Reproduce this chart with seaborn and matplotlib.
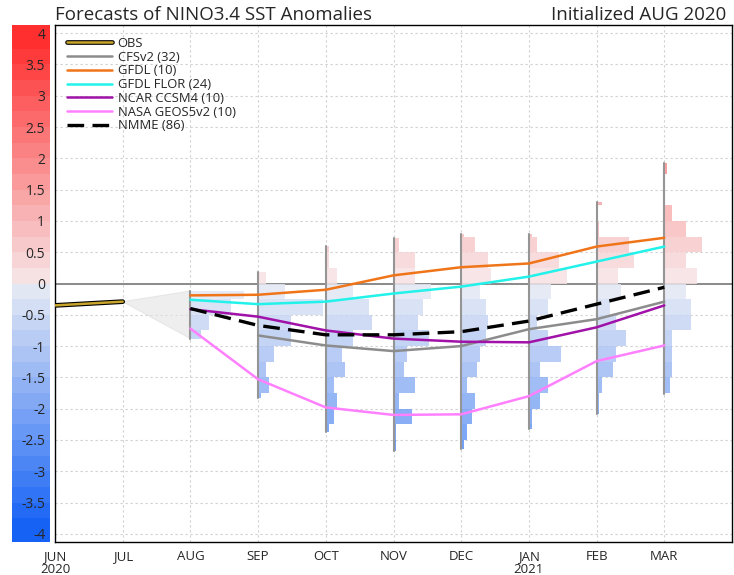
import numpy as np
import pandas as pd
import matplotlib
matplotlib.use("Agg")
import matplotlib.pyplot as plt
import matplotlib.patheffects as pe
from matplotlib.colors import LinearSegmentedColormap
import seaborn as sns

# Months on the x axis (JUN 2020 .. MAR 2021)
MONTHS = ["JUN", "JUL", "AUG", "SEP", "OCT", "NOV", "DEC", "JAN", "FEB", "MAR"]
YEAR_LABELS = {"JUN": "2020", "JAN": "2021"}
FCST_MONTHS = ["AUG", "SEP", "OCT", "NOV", "DEC", "JAN", "FEB", "MAR"]

# Observations
OBS_MONTHS = ["JUN", "JUL"]
OBS = [-0.35, -0.29]

# Model ensemble means (nan = no value)
CFSV2 = [np.nan, -0.83, -0.99, -1.08, -1.00, -0.73, -0.57, -0.29]
GFDL = [-0.19, -0.18, -0.10, 0.13, 0.26, 0.32, 0.59, 0.73]
GFDL_FLOR = [-0.26, -0.33, -0.29, -0.16, -0.05, 0.11, 0.35, 0.59]
NCAR_CCSM4 = [-0.41, -0.53, -0.75, -0.88, -0.93, -0.94, -0.70, -0.35]
NASA_GEOS5 = [-0.72, -1.53, -1.98, -2.10, -2.09, -1.80, -1.24, -0.99]
NMME = [-0.40, -0.67, -0.82, -0.82, -0.77, -0.60, -0.33, -0.06]

# Ensemble member histograms, bins of 0.25 given by their top edge
BIN_TOPS = [2.0, 1.75, 1.5, 1.25, 1.0, 0.75, 0.5, 0.25, 0.0, -0.25,
            -0.5, -0.75, -1.0, -1.25, -1.5, -1.75, -2.0, -2.25, -2.5]
HIST_AUG = [0, 0, 0, 0, 0, 0, 0, 0, 20, 15, 7, 4, 0, 0, 0, 0, 0, 0, 0]
HIST_SEP = [0, 0, 0, 0, 0, 0, 0, 3, 10, 24, 12, 12, 6, 3, 4, 1, 0, 0, 0]
HIST_OCT = [0, 0, 0, 0, 0, 1, 1, 4, 10, 16, 17, 10, 6, 7, 3, 4, 3, 1, 0]
HIST_NOV = [0, 0, 0, 0, 0, 2, 8, 8, 14, 11, 9, 13, 5, 4, 8, 2, 7, 1, 1]
HIST_DEC = [0, 0, 0, 0, 1, 5, 10, 11, 7, 9, 10, 9, 7, 6, 2, 5, 4, 2, 1]
HIST_JAN = [0, 0, 0, 0, 1, 3, 11, 14, 8, 7, 3, 7, 12, 4, 7, 4, 1, 1, 0]
HIST_FEB = [0, 0, 2, 0, 1, 12, 14, 8, 9, 5, 7, 11, 7, 6, 2, 1, 1, 0, 0]
HIST_MAR = [1, 0, 0, 3, 8, 14, 8, 12, 8, 10, 10, 3, 3, 3, 2, 0, 0, 0, 0]
ENS_MIN = [-0.88, -1.83, -2.37, -2.67, -2.65, -2.33, -2.08, -1.77]
ENS_MAX = [-0.12, 0.18, 0.60, 0.72, 0.79, 0.79, 1.30, 1.92]

# Colour bar levels
CB_LEVELS = np.arange(-4.0, 4.0, 0.25)

sns.set_style("white")
plt.rcParams["font.family"] = ["Open Sans", "DejaVu Sans"]

cmap = LinearSegmentedColormap.from_list(
    "anom", [(0.0, "#0f5ef5"), (0.5, "#e8ebf4"), (0.5001, "#f6e8ea"), (1.0, "#ff2a2a")])


def level_color(v):
    return cmap((v + 4.0) / 8.0)


YLIM = (-4.13, 4.13)
fig = plt.figure(figsize=(7.34, 5.75), dpi=100)
ax_cb = fig.add_axes([12 / 734, 33 / 575, 38 / 734, 517 / 575])
ax = fig.add_axes([55 / 734, 33 / 575, 677 / 734, 517 / 575])

# colour bar on the left
for lv in CB_LEVELS:
    lo = lv if lv > -4.0 else YLIM[0]
    hi = lv + 0.25 if lv < 3.75 else YLIM[1]
    ax_cb.barh(lo, 1, height=hi - lo, align="edge", color=level_color(lv + 0.125), linewidth=0)
ax_cb.set_xlim(0, 1)
ax_cb.set_ylim(*YLIM)
ax_cb.axis("off")

x_of = {m: i for i, m in enumerate(MONTHS)}
fx = np.array([x_of[m] for m in FCST_MONTHS])

# grid and zero line
for v in np.arange(-4, 4.01, 0.5):
    ax.axhline(v, color="#d0d0d0", lw=0.8, ls=(0, (2, 2.5)), zorder=0)
for i in range(len(MONTHS)):
    ax.axvline(i, color="#d0d0d0", lw=0.8, ls=(0, (2, 2.5)), zorder=0)
ax.axhline(0, color="#8a8a8a", lw=1.4, zorder=1)

# histograms of ensemble members
px_per_member = 2.7 / 67.7
hists = [HIST_AUG, HIST_SEP, HIST_OCT, HIST_NOV, HIST_DEC, HIST_JAN, HIST_FEB, HIST_MAR]
for x0, counts, lo_lim, hi_lim in zip(fx, hists, ENS_MIN, ENS_MAX):
    for top, c in zip(BIN_TOPS, counts):
        if c == 0:
            continue
        lo = max(top - 0.25, lo_lim)
        hi = min(top, hi_lim)
        ax.barh(lo, c * px_per_member, height=hi - lo, left=x0, align="edge",
                color=level_color(top - 0.125), alpha=0.85, linewidth=0, zorder=2)
    ax.plot([x0, x0], [lo_lim, hi_lim], color="#959595", lw=1.5, zorder=3)

# spread cone from last observation
ax.fill([1, 2, 2], [OBS[-1], ENS_MAX[0], ENS_MIN[0]], color="#e4e4e4", alpha=0.6,
        ec="#dddddd", lw=0.8, zorder=2)

# lines
obs_df = pd.DataFrame({"x": [x_of[m] for m in OBS_MONTHS], "y": OBS})
sns.lineplot(data=obs_df, x="x", y="y", ax=ax, color="#c8a42a", lw=1.8, label="OBS", zorder=5,
             path_effects=[pe.Stroke(linewidth=3.4, foreground="black"), pe.Normal()])

series = [
    ("CFSv2 (32)", CFSV2, "#8c8c8c"),
    ("GFDL (10)", GFDL, "#f07418"),
    ("GFDL FLOR (24)", GFDL_FLOR, "#22f2ea"),
    ("NCAR CCSM4 (10)", NCAR_CCSM4, "#a012a8"),
    ("NASA GEOS5v2 (10)", NASA_GEOS5, "#ff80ff"),
]
for name, vals, col in series:
    df = pd.DataFrame({"x": fx, "y": vals}).dropna()
    sns.lineplot(data=df, x="x", y="y", ax=ax, color=col, lw=1.8, label=name, zorder=5)

nm = pd.DataFrame({"x": fx, "y": NMME})
sns.lineplot(data=nm, x="x", y="y", ax=ax, color="black", lw=2.4, label="NMME (86)",
             dashes=False, zorder=6).lines[-1].set_dashes((5, 2.5))

ax.set_xlim(0, 10)
ax.set_ylim(*YLIM)
ax.set_xticks(range(len(MONTHS)))
ax.set_xticklabels([m + ("\n" + YEAR_LABELS[m] if m in YEAR_LABELS else "") for m in MONTHS],
                   fontsize=9.5, linespacing=0.95)
yt = np.arange(-4, 4.01, 0.5)
ax.set_yticks(yt)
ax.set_yticklabels([f"{v:g}" for v in yt], fontsize=10)
ax.tick_params(axis="both", direction="out", length=5, width=1, color="black")
ax.tick_params(axis="x", pad=1)
ax.tick_params(axis="y", pad=2)
ax.set_xlabel("")
ax.set_ylabel("")
for s in ax.spines.values():
    s.set_color("black")
    s.set_linewidth(1.0)

ax.legend(loc="upper left", bbox_to_anchor=(0.0, 1.0), frameon=False, fontsize=9.4,
          handlelength=3.5, labelspacing=0.06, borderaxespad=0.5, handletextpad=0.4)

fig.text(55 / 734, 1 - 15 / 575, "Forecasts of NINO3.4 SST Anomalies", fontsize=13.5,
         ha="left", va="center")
fig.text(726 / 734, 1 - 15 / 575, "Initialized AUG 2020", fontsize=13.5,
         ha="right", va="center")

fig.savefig("out.png", dpi=100)
